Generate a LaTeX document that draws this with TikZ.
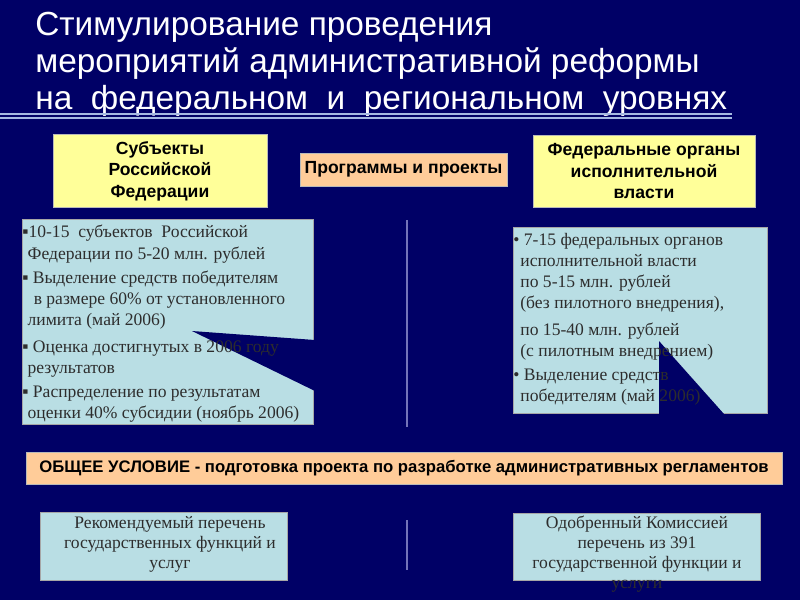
\documentclass[tikz,border=0pt]{standalone}
\usepackage{fontspec}
\setmainfont{Liberation Serif}
\setsansfont{Liberation Sans}
\definecolor{slidebg}{RGB}{0,0,102}
\definecolor{paleyellow}{RGB}{255,255,153}
\definecolor{peach}{RGB}{255,204,153}
\definecolor{palecyan}{RGB}{185,222,228}
\definecolor{rulecol}{RGB}{165,185,225}
\definecolor{divcol}{RGB}{115,115,185}
\definecolor{bodytext}{RGB}{45,45,45}

\begin{document}
\begin{tikzpicture}[x=0.02cm, y=-0.02cm,
  every node/.style={inner sep=0pt},
  headbox/.style={draw=gray!55, fill=paleyellow, align=center,
    font=\sffamily\bfseries\fontsize{10}{12.2}\selectfont},
  progbox/.style={draw=gray!55, fill=peach, align=center,
    font=\sffamily\bfseries\fontsize{10}{12}\selectfont},
  infobox/.style={draw=gray!70, fill=palecyan},
  infotext/.style={align=left, text=bodytext,
    font=\rmfamily\fontsize{10}{12}\selectfont},
  divider/.style={divcol, line width=1.2pt},
  wedge/.style={fill=slidebg}]

  % Фон
  \fill[slidebg] (0,0) rectangle (800,600);
  \useasboundingbox (0,0) rectangle (800,600);

  % Заголовок
  \node[anchor=north west, align=left, text=white,
    font=\sffamily\fontsize{19}{21}\selectfont] (title) at (35,12)
    {Стимулирование проведения\\
     мероприятий административной реформы\\
     на~~федеральном~~и~~региональном~~уровнях};
  \draw[rulecol, line width=1pt] (0,114) -- (732,114);
  \draw[rulecol, line width=1pt] (0,118) -- (732,118);

  % Верхний ряд
  \node[headbox, minimum width=4.28cm, minimum height=1.46cm] (subj) at (160,171)
    {Субъекты\\Российской\\Федерации};
  \node[progbox, minimum width=4.14cm, minimum height=0.66cm] (prog) at (403.5,169.5)
    {Программы и проекты};
  \node[headbox, minimum width=4.44cm, minimum height=1.44cm] (fed) at (644,171)
    {Федеральные органы\\исполнительной\\власти};

  % Средний ряд
  \node[infobox, minimum width=5.82cm, minimum height=4.1cm] (leftbox) at (167.5,321.5) {};
  \node[infobox, minimum width=5.08cm, minimum height=3.72cm] (rightbox) at (640,320) {};
  \fill[wedge] (192,331) -- (315,340) -- (315,391) -- cycle;
  \fill[wedge] (659,341) -- (659,414) -- (724,414) -- cycle;

  \node[infotext, anchor=north west] (lefttext) at (22,225)
    {▪10-15~~субъектов~~Российской\\
     \hspace*{3pt}Федерации по 5-20 млн. рублей\\[2pt]
     ▪ Выделение средств победителям\\
     \hspace*{4pt} в размере 60\% от установленного\\
     \hspace*{3pt}лимита (май 2006)\\[3pt]
     ▪ Оценка достигнутых в 2006 году\\
     \hspace*{3pt}результатов\\[2pt]
     ▪ Распределение по результатам\\
     \hspace*{3pt}оценки 40\% субсидии (ноябрь 2006)};
  \node[infotext, anchor=north west] (righttext) at (513,233)
    {• 7-15 федеральных органов\\
     \hspace*{4pt}исполнительной власти\\
     \hspace*{4pt}по 5-15 млн. рублей\\
     \hspace*{4pt}(без пилотного внедрения),\\[3pt]
     \hspace*{4pt}по 15-40 млн. рублей\\
     \hspace*{4pt}(с пилотным внедрением)\\[2pt]
     • Выделение средств\\
     \hspace*{4pt}победителям (май 2006)};

  \draw[divider] (407,220) -- (407,427);

  % Общее условие
  \node[progbox, font=\sffamily\bfseries\fontsize{9.5}{11}\selectfont,
    minimum width=15.12cm, minimum height=0.64cm] (cond) at (404,468)
    {ОБЩЕЕ УСЛОВИЕ - подготовка проекта по разработке административных регламентов};

  % Нижний ряд
  \node[infobox, minimum width=4.94cm, minimum height=1.36cm] (reclist) at (163.5,546) {};
  \node[infobox, minimum width=4.94cm, minimum height=1.34cm] (applist) at (636.5,546.5) {};
  \node[infotext, align=center, font=\rmfamily\fontsize{10}{11.4}\selectfont] (rectext) at (170,544)
    {Рекомендуемый перечень\\государственных функций и\\услуг};
  \node[infotext, align=center, font=\rmfamily\fontsize{10}{11.4}\selectfont] (apptext) at (637,554)
    {Одобренный Комиссией\\перечень из 391\\государственной функции и\\услуги};
  \draw[divider] (407,520) -- (407,570);
\end{tikzpicture}
\end{document}
